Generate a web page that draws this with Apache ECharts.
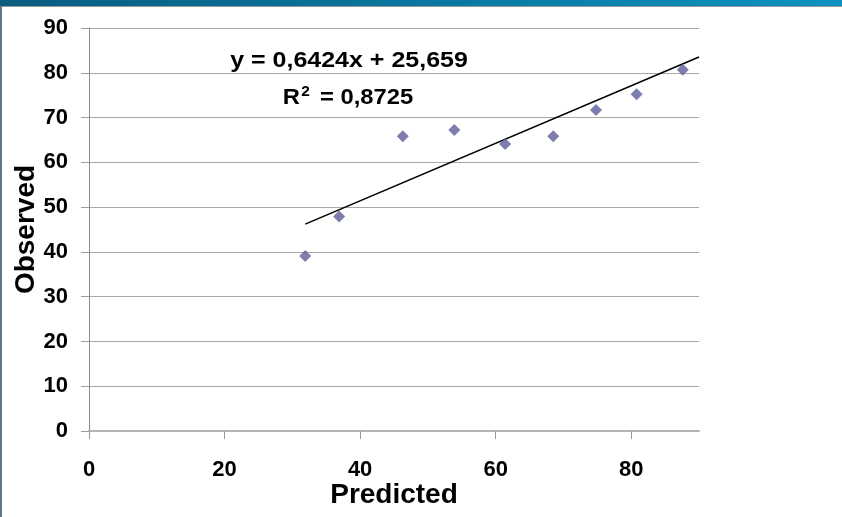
<!DOCTYPE html>
<html>
<head>
<meta charset="utf-8">
<script src="https://cdn.jsdelivr.net/npm/echarts@6/dist/echarts.min.js"></script>
<style>
html,body{margin:0;padding:0;background:#fff;}
#chart{width:842px;height:517px;}
</style>
</head>
<body>
<div id="chart"></div>
<script>
// Data
const predicted = [31.9, 36.9, 46.3, 53.9, 61.4, 68.5, 74.8, 80.8, 87.6];
const observed  = [39.1, 47.9, 65.8, 67.2, 64.1, 65.8, 71.7, 75.2, 80.7];
const trendX = [31.9, 90];
const trendY = [46.2, 83.5];
const xTickLabels = [0, 20, 40, 60, 80];
const yTickLabels = [0, 10, 20, 30, 40, 50, 60, 70, 80, 90];
const equationText = 'y = 0,6424x + 25,659';
const r2Value = '0,8725';
const xTitle = 'Predicted';
const yTitle = 'Observed';

const FONT = '"Liberation Sans", Arial, sans-serif';
const chart = echarts.init(document.getElementById('chart'), null, {renderer: 'canvas'});

const points = predicted.map((x, i) => [x, observed[i]]);
const trend = trendX.map((x, i) => [x, trendY[i]]);

chart.setOption({
  animation: false,
  backgroundColor: '#ffffff',
  grid: {left: 89, right: 143, top: 28, bottom: 86, containLabel: false, outerBoundsMode: 'none'},
  xAxis: {
    type: 'value', min: 0, max: 90, interval: 10,
    name: xTitle, nameLocation: 'middle', nameGap: 50, nameMoveOverlap: false,
    nameTextStyle: {fontFamily: FONT, fontWeight: 'bold', fontSize: 28, color: '#000'},
    axisLine: {show: true, onZero: false, lineStyle: {color: '#b4b4b4', width: 2}},
    axisTick: {show: true, length: 8, lineStyle: {color: '#999', width: 1}, customValues: xTickLabels},
    axisLabel: {fontFamily: FONT, fontWeight: 'bold', fontSize: 22, color: '#000', margin: 28, customValues: xTickLabels},
    splitLine: {show: false}
  },
  yAxis: {
    type: 'value', min: 0, max: 90, interval: 10,
    name: yTitle, nameLocation: 'middle', nameGap: 49, nameRotate: 90, nameMoveOverlap: false,
    nameTextStyle: {fontFamily: FONT, fontWeight: 'bold', fontSize: 28, color: '#000'},
    axisLine: {show: true, onZero: false, lineStyle: {color: '#8a8a8a', width: 1}},
    axisTick: {show: true, length: 8, lineStyle: {color: '#a0a0a0', width: 1}},
    axisLabel: {fontFamily: FONT, fontWeight: 'bold', fontSize: 22, color: '#000', margin: 21},
    splitLine: {show: true, lineStyle: {color: '#a8a8a8', width: 1}}
  },
  series: [
    {
      type: 'line', data: trend, showSymbol: false, symbol: 'none',
      lineStyle: {color: '#000', width: 1.6}, z: 2, silent: true
    },
    {
      type: 'scatter', data: points, symbol: 'diamond', symbolSize: [12, 12],
      itemStyle: {color: '#5e5e9a'}, z: 3
    }
  ],
  graphic: [
    {type: 'rect', left: 0, top: 0, shape: {width: 842, height: 6},
     style: {fill: new echarts.graphic.LinearGradient(0, 0, 1, 0, [
       {offset: 0, color: '#0a5c80'}, {offset: 1, color: '#0a92c0'}])}},
    {type: 'rect', left: 0, top: 6, shape: {width: 842, height: 1}, style: {fill: '#9a9a9a'}},
    {type: 'rect', left: 0, top: 6, shape: {width: 2, height: 511}, style: {fill: '#5f7886'}},
    {type: 'text', x: 349, y: 61, scaleX: 1.25, scaleY: 1.1, originX: 0, originY: 0,
     style: {text: equationText, font: 'bold 20px ' + FONT, fill: '#000', align: 'center', verticalAlign: 'middle'}},
    {type: 'text', x: 348, y: 97, scaleX: 1.19, scaleY: 1.1, originX: 0, originY: 0,
     style: {text: '{a|R}{s|2}{a| = ' + r2Value + '}', font: 'bold 20px ' + FONT, fill: '#000', align: 'center', verticalAlign: 'middle',
       rich: {
         a: {fontFamily: FONT, fontWeight: 'bold', fontSize: 20, color: '#000', verticalAlign: 'bottom', lineHeight: 22},
         s: {fontFamily: FONT, fontWeight: 'bold', fontSize: 13, color: '#000', verticalAlign: 'top', lineHeight: 14, padding: [0, 3, 14, 1]}
       }}}
  ]
});
</script>
</body>
</html>
